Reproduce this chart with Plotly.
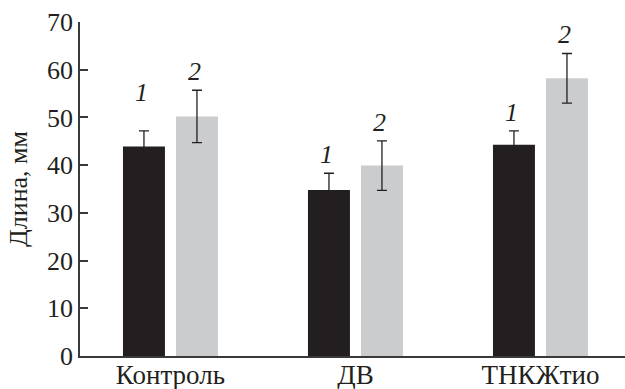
import plotly.graph_objects as go

# Group categories and the two measured series
categories = ["Контроль", "ДВ", "ТНКЖтио"]
series_1 = [43.9, 34.8, 44.3]
series_1_err = [3.3, 3.5, 2.9]
series_2 = [50.2, 39.9, 58.2]
series_2_err = [5.5, 5.2, 5.2]
series_labels = ["1", "2"]
y_ticks = [0, 10, 20, 30, 40, 50, 60, 70]

ink = "#231f20"
font_family = "Liberation Serif"

fig = go.Figure()
for vals, errs, color in [(series_1, series_1_err, ink),
                          (series_2, series_2_err, "#cbcccd")]:
    fig.add_trace(go.Bar(
        x=categories, y=vals,
        marker=dict(color=color, line=dict(width=0)),
        error_y=dict(type="data", array=errs, visible=True,
                     color=ink, thickness=1.3, width=5),
        showlegend=False,
    ))

# Italic series numbers above each error bar
extra_shift = {(0, 0): 20}
for s, (vals, errs) in enumerate([(series_1, series_1_err), (series_2, series_2_err)]):
    for i, cat in enumerate(categories):
        fig.add_annotation(
            x=cat, y=vals[i] + errs[i], xref="x", yref="y",
            text="<i>" + series_labels[s] + "</i>", showarrow=False,
            xshift=(-26.5 if s == 0 else 26.5) - 2,
            yanchor="bottom", yshift=2 + extra_shift.get((s, i), 0),
            font=dict(family=font_family, size=26, color=ink),
        )

fig.update_layout(
    width=625, height=389,
    margin=dict(l=80, r=0, t=22, b=33, autoexpand=False),
    paper_bgcolor="white", plot_bgcolor="white",
    barmode="group", bargap=0.427, bargroupgap=0.208,
    font=dict(family=font_family, size=27, color=ink),
    xaxis=dict(
        range=[-0.489, 2.457], showline=True, linecolor="#3a3a3a",
        linewidth=1.5, ticks="", showgrid=False, zeroline=False,
        tickfont=dict(size=27), ticklabelstandoff=-6, automargin=False,
    ),
    yaxis=dict(
        range=[0, 70], tickvals=y_ticks, showline=True, linecolor="#3a3a3a",
        linewidth=1.5, ticks="inside", ticklen=8, tickwidth=1.5,
        tickcolor="#3a3a3a", showgrid=False, zeroline=False,
        tickfont=dict(size=26), automargin=False,
        title=dict(text="Длина, мм", font=dict(size=26), standoff=12),
    ),
)

fig.write_html("out.html")
